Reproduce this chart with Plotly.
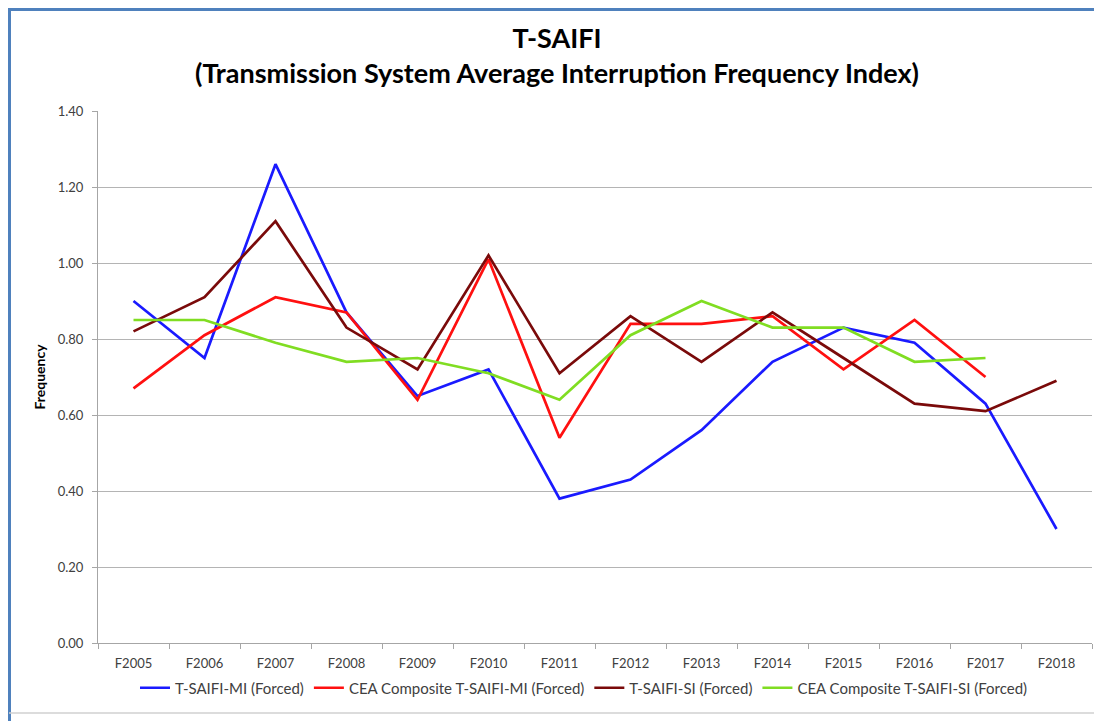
import plotly.graph_objects as go

years = ["F2005", "F2006", "F2007", "F2008", "F2009", "F2010", "F2011",
         "F2012", "F2013", "F2014", "F2015", "F2016", "F2017", "F2018"]

tsaifi_mi = [0.90, 0.75, 1.26, 0.87, 0.65, 0.72, 0.38, 0.43, 0.56, 0.74, 0.83, 0.79, 0.63, 0.30]
cea_mi = [0.67, 0.81, 0.91, 0.87, 0.64, 1.01, 0.54, 0.84, 0.84, 0.86, 0.72, 0.85, 0.70, None]
tsaifi_si = [0.82, 0.91, 1.11, 0.83, 0.72, 1.02, 0.71, 0.86, 0.74, 0.87, 0.75, 0.63, 0.61, 0.69]
cea_si = [0.85, 0.85, 0.79, 0.74, 0.75, 0.71, 0.64, 0.81, 0.90, 0.83, 0.83, 0.74, 0.75, None]

series = [
    ("T-SAIFI-MI (Forced)", tsaifi_mi, "#1a1aff"),
    ("CEA Composite T-SAIFI-MI (Forced)", cea_mi, "#ff1010"),
    ("T-SAIFI-SI (Forced)", tsaifi_si, "#7a0a0a"),
    ("CEA Composite T-SAIFI-SI (Forced)", cea_si, "#80dd22"),
]

FONT = "Lato"

fig = go.Figure()
for name, vals, col in series:
    fig.add_trace(go.Scatter(x=years, y=vals, name=name, mode="lines",
                             line=dict(color=col, width=2.7), connectgaps=False))

OFF = 8  # page body margin
W, H = 1102 - OFF, 721 - OFF
L, T = 98 - OFF, 111 - OFF
R = W - (1092 - OFF)
B = H - (643 - OFF)
pw, ph = W - L - R, H - T - B

def px2x(px):
    return (px - OFF - L) / pw

def py2y(py):
    return (H - B - (py - OFF)) / ph

fig.update_layout(
    width=W, height=H,
    margin=dict(l=L, r=R, t=T, b=B),
    paper_bgcolor="white", plot_bgcolor="white",
    font=dict(family=FONT, size=13, color="#404040"),
    title=dict(text="T-SAIFI<br>(Transmission System Average Interruption Frequency Index)",
               x=(557 - OFF) / W, xanchor="center", y=1 - (48 - OFF) / H, yanchor="middle",
               font=dict(family=FONT, size=27, color="black", weight="bold")),
    showlegend=True,
    legend=dict(orientation="h", x=px2x(584), xanchor="center", y=py2y(688), yanchor="middle",
                font=dict(family=FONT, size=15, color="#404040"), itemwidth=30,
                tracegroupgap=0, bgcolor="rgba(0,0,0,0)"),
    xaxis=dict(type="category", range=[-0.5, 13.5], showgrid=False,
               showline=True, linecolor="#a6a6a6", linewidth=1,
               ticks="outside", tickson="boundaries", ticklen=5, tickcolor="#a6a6a6",
               ticklabelstandoff=8,
               tickfont=dict(size=13, color="#404040")),
    yaxis=dict(range=[0, 1.4], dtick=0.2, tickformat=".2f",
               showgrid=True, gridcolor="#b4b4b4", gridwidth=1,
               showline=True, linecolor="#a6a6a6", linewidth=1,
               ticks="outside", ticklen=5, tickcolor="#a6a6a6",
               ticklabelstandoff=6,
               zeroline=False,
               tickfont=dict(size=13, color="#404040"),
               title=dict(text="Frequency", standoff=8,
                          font=dict(family=FONT, size=14, color="black", weight="bold"))),
)

# frame lines of the original picture
fig.add_shape(type="line", xref="paper", yref="paper", x0=px2x(8), x1=px2x(1102),
              y0=py2y(9.5), y1=py2y(9.5), line=dict(color="#4f81bd", width=3))
fig.add_shape(type="line", xref="paper", yref="paper", x0=px2x(9.5), x1=px2x(9.5),
              y0=py2y(8), y1=py2y(721), line=dict(color="#4f81bd", width=3))
fig.add_shape(type="line", xref="paper", yref="paper", x0=px2x(9), x1=px2x(1102),
              y0=py2y(713), y1=py2y(713), line=dict(color="#d0d0d0", width=1.5))

fig.write_html("out.html")
